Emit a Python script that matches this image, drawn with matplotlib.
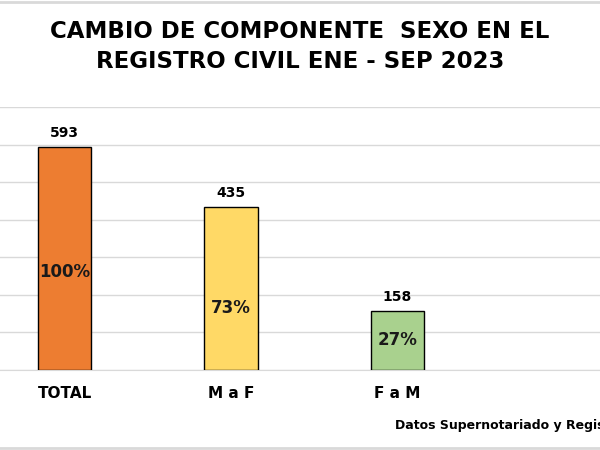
from matplotlib import pyplot as plt

categorias = ['TOTAL', 'M a F', 'F a M']
valores = [593, 435, 158]
porcentajes = ['100%', '73%', '27%']
colores = ['#ED7D31', '#FFD966', '#A9D18E']

# altura relativa de la etiqueta de porcentaje dentro de cada barra
pos_pct = [0.44, 0.38, 0.5]


def main():
    plt.rcParams['font.family'] = ['DejaVu Sans']
    fig = plt.figure(figsize=(6, 4.5), dpi=100)
    ax = fig.add_axes([0, 1 - 370 / 450, 1, (370 - 107) / 450])

    x = list(range(len(categorias)))
    barras = ax.bar(x, valores, width=0.32, color=colores, edgecolor='black',
                    linewidth=1, zorder=3)
    for b, v, p, f in zip(barras, valores, porcentajes, pos_pct):
        cx = b.get_x() + b.get_width() / 2
        ax.text(cx, v + 18, str(v), ha='center', va='bottom',
                fontsize=10, fontweight='bold')
        ax.text(cx, v * f, p, ha='center', va='center',
                fontsize=12, fontweight='heavy', color='#1a1a1a', zorder=4)

    ax.set_xlim(-0.39, 3.22)
    ax.set_ylim(0, 700)
    ax.set_yticks(range(0, 701, 100))
    ax.grid(axis='y', color='#d9d9d9', linewidth=1, zorder=0)
    ax.tick_params(left=False, bottom=False, labelleft=False)
    ax.set_xticks(x)
    ax.set_xticklabels(categorias, fontsize=11, fontweight='bold')
    ax.tick_params(axis='x', pad=8)
    for s in ['top', 'right', 'left']:
        ax.spines[s].set_visible(False)
    ax.spines['bottom'].set_color('#d9d9d9')

    fig.text(0.5, 1 - 32 / 450, 'CAMBIO DE COMPONENTE  SEXO EN EL',
             ha='center', va='center', fontsize=16.5, fontweight='bold')
    fig.text(0.5, 1 - 62 / 450, 'REGISTRO CIVIL ENE - SEP 2023',
             ha='center', va='center', fontsize=16.5, fontweight='bold')
    fig.text(395 / 600, 1 - 426 / 450, 'Datos Supernotariado y Registro',
             ha='left', va='center', fontsize=9, fontweight='bold')

    # bordes grises de la imagen original
    fig.add_artist(plt.Line2D([0, 1], [1 - 2 / 450] * 2, color='#d9d9d9', lw=2))
    fig.add_artist(plt.Line2D([0, 1], [2 / 450] * 2, color='#d9d9d9', lw=2))

    fig.savefig('out.png', dpi=100)


if __name__ == '__main__':
    main()
